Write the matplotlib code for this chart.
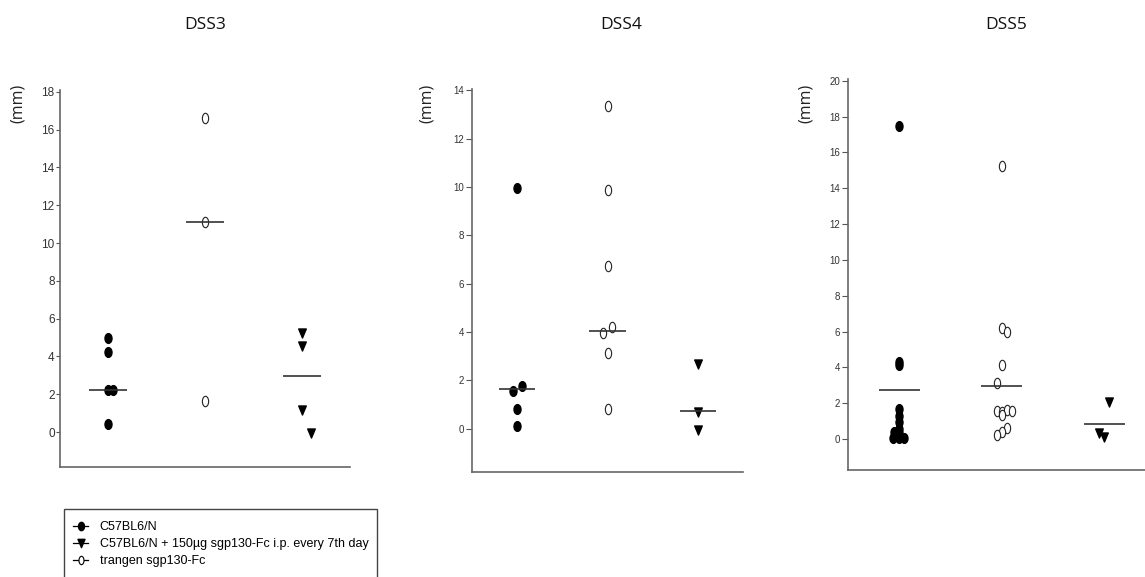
import numpy as np
import matplotlib
matplotlib.use("Agg")
import matplotlib.pyplot as plt
from matplotlib.path import Path
from matplotlib.lines import Line2D
from matplotlib.patches import Rectangle

W, H = 1145, 577

titles = ["DSS3", "DSS4", "DSS5"]
legend_labels = ["C57BL6/N",
                 "C57BL6/N + 150µg sgp130-Fc i.p. every 7th day",
                 "trangen sgp130-Fc"]

# values in mm; *_dx = small horizontal scatter of the dots
dss3_wt = [4.97, 4.26, 2.24, 2.24, 0.42]
dss3_wt_dx = [0, 0, 0, 0.05, 0]
dss3_tg = [16.6, 11.1, 1.62]
dss3_tg_dx = [0, 0, 0]
dss3_fc = [5.26, 4.56, 1.18, -0.05]
dss3_fc_dx = [0, 0, 0, 0.09]
dss3_lines = [2.24, 11.1, 2.94]

dss4_wt = [9.96, 1.75, 1.56, 0.83, 0.10]
dss4_wt_dx = [0, 0.05, -0.05, 0, 0]
dss4_tg = [13.34, 9.89, 6.73, 4.2, 3.96, 3.13, 0.83]
dss4_tg_dx = [0, 0, 0, 0.055, -0.05, 0, 0]
dss4_fc = [2.66, 0.69, -0.04]
dss4_fc_dx = [0, 0, 0]
dss4_lines = [1.63, 4.06, 0.72]

dss5_wt = [17.49, 4.32, 4.13, 1.70, 1.30, 0.95, 0.55, 0.40, 0.35, 0.05, 0.05, 0.05]
dss5_wt_dx = [0, 0, 0, 0, 0, 0, 0, -0.05, 0, -0.06, 0, 0.05]
dss5_tg = [15.27, 6.18, 5.99, 4.13, 3.13, 1.55, 1.50, 1.60, 1.55, 1.34, 0.60, 0.39, 0.22]
dss5_tg_dx = [0, 0, 0.05, 0, -0.05, -0.05, 0, 0.05, 0.1, 0, 0.05, 0, -0.05]
dss5_fc = [2.07, 0.33, 0.10]
dss5_fc_dx = [0.05, -0.05, 0]
dss5_lines = [2.74, 2.94, 0.85]

panels = [
    (dss3_wt, dss3_wt_dx, dss3_tg, dss3_tg_dx, dss3_fc, dss3_fc_dx, dss3_lines),
    (dss4_wt, dss4_wt_dx, dss4_tg, dss4_tg_dx, dss4_fc, dss4_fc_dx, dss4_lines),
    (dss5_wt, dss5_wt_dx, dss5_tg, dss5_tg_dx, dss5_fc, dss5_fc_dx, dss5_lines),
]
yticks = [np.arange(0, 19, 2), np.arange(0, 15, 2), np.arange(0, 21, 2)]
ylims = [(-1.85, 18.1), (-1.79, 14.05), (-1.73, 20.1)]

# pixel boxes: left, right, bottom, top
boxes = [(59.5, 350.5, 467, 90), (472, 743, 472, 89), (848, 1155.5, 470, 79)]
title_x = [205, 621, 1006]
ylabel_x = [18, 427, 806]


def ellipse(rx):
    c = Path.unit_circle()
    return Path(c.vertices * [rx, 1.0], c.codes)


TRI = Path([(-0.42, 0.5), (0.42, 0.5), (0, -0.5), (-0.42, 0.5)],
           [Path.MOVETO, Path.LINETO, Path.LINETO, Path.CLOSEPOLY])
DOT = ellipse(0.72)
RING = ellipse(0.6)

fig = plt.figure(figsize=(W / 100, H / 100), dpi=100)

for i, (wt, wt_dx, tg, tg_dx, fc, fc_dx, lines) in enumerate(panels):
    l, r, b, t = boxes[i]
    ax = fig.add_axes([l / W, 1 - b / H, (r - l) / W, (b - t) / H])
    ax.plot(1 + np.array(wt_dx), wt, ls="none", marker=DOT, ms=7, color="black")
    ax.plot(2 + np.array(tg_dx), tg, ls="none", marker=RING, ms=7.5,
            mfc="white", mec="#222222", mew=0.8)
    ax.plot(3 + np.array(fc_dx), fc, ls="none", marker=TRI, ms=6.5, color="black")
    ax.hlines(lines, np.arange(1, 4) - 0.2, np.arange(1, 4) + 0.2, color="#333333", lw=1.2)
    ax.set_xlim(0.5, 3.5)
    ax.set_ylim(*ylims[i])
    ax.set_xticks([])
    ax.set_yticks(yticks[i])
    for s in ["top", "right"]:
        ax.spines[s].set_visible(False)
    for s in ["left", "bottom"]:
        ax.spines[s].set_color("#666666")
        ax.spines[s].set_linewidth(1.2)
    if i == 0:
        ax.tick_params(axis="y", length=3, pad=0.5, width=0.8, color="#555555",
                       labelsize=8.5, labelcolor="#333333")
        for lab in ax.get_yticklabels():
            lab.set_family(["Liberation Sans", "DejaVu Sans"])
    else:
        ax.tick_params(axis="y", length=4, pad=1.5, width=0.8, color="#555555",
                       labelsize=7, labelcolor="#333333")
        for lab in ax.get_yticklabels():
            lab.set_family(["Liberation Sans Narrow", "Liberation Sans", "DejaVu Sans"])
    fig.text(title_x[i] / W, 1 - 25 / H, titles[i], ha="center", va="center",
             fontsize=12.5, family=["Open Sans", "DejaVu Sans"], color="#111111")
    fig.text(ylabel_x[i] / W, 1 - 103 / H, "(mm)", ha="center", va="center", rotation=90,
             fontsize=11.5, family=["Open Sans", "DejaVu Sans"], color="#222222")

# legend box, cut by the lower edge like in the original
fig.patches.append(Rectangle((64 / W, -0.05), (377 - 64) / W, 0.05 + 1 - 509 / H,
                             transform=fig.transFigure, fill=False,
                             edgecolor="#444444", lw=1.0))
handles = [
    Line2D([], [], color="black", lw=0.9, marker=DOT, ms=6),
    Line2D([], [], color="black", lw=0.9, marker=TRI, ms=6),
    Line2D([], [], color="black", lw=0.9, marker=RING, ms=6, mfc="white", mec="black", mew=0.8),
]
fig.legend(handles, legend_labels, loc="upper left",
           bbox_to_anchor=(73 / W, 1 - 521 / H), frameon=False,
           prop={"family": ["Liberation Sans", "DejaVu Sans"], "size": 9},
           handlelength=1.2, handletextpad=0.95, labelspacing=0.4,
           borderpad=0, borderaxespad=0)

fig.savefig("out.png", dpi=100)
